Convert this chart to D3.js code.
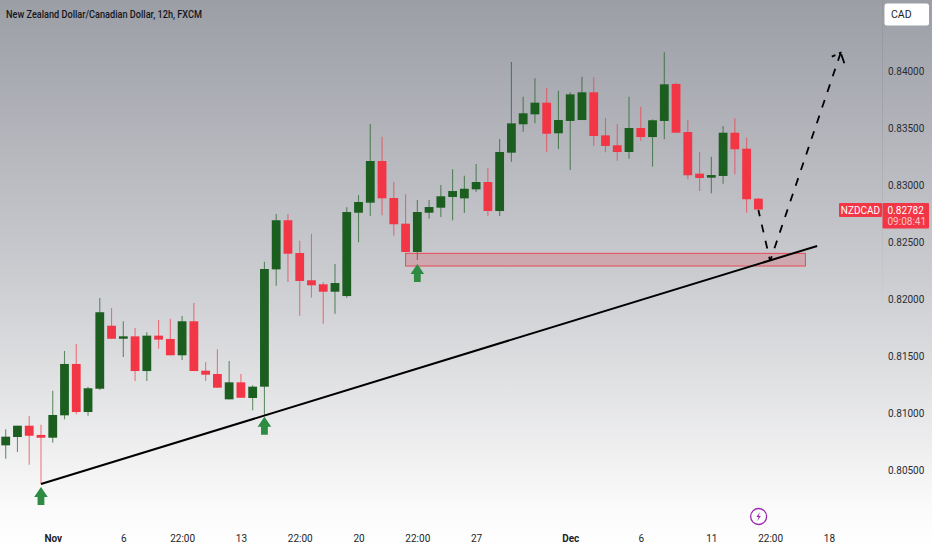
<!DOCTYPE html>
<html lang="en">
<head>
  <meta charset="UTF-8">
  <title>NZDCAD 12h</title>
  <script src="https://d3js.org/d3.v7.min.js"></script>
  <style>
    body { margin: 0; background: #fff; overflow: hidden; }
    text { font-family: Roboto, sans-serif; }
  </style>
</head>
<body>
  <script>
    const width = 932, height = 550;

    const opens = [0.80716,0.80789,0.80888,0.80807,0.80783,0.80979,0.81429,0.81008,0.81212,0.81764,
      0.81650,0.81671,0.81367,0.81677,0.81648,0.81505,0.81803,0.81370,0.81341,0.81119,
      0.81268,0.81131,0.81230,0.82258,0.82688,0.82401,0.82162,0.82127,0.82062,0.82024,
      0.82754,0.82842,0.83207,0.82883,0.82658,0.82410,0.82754,0.82798,0.82892,0.82880,
      0.82959,0.83023,0.82769,0.83280,0.83529,0.83616,0.83718,0.83450,0.83558,0.83566,
      0.83809,0.83432,0.83345,0.83286,0.83496,0.83417,0.83558,0.83882,0.83461,0.83096,
      0.83061,0.83076,0.83455,0.83315,0.82877];
    const highs = [0.80857,0.80888,0.80973,0.80897,0.81195,0.81543,0.81604,0.81230,0.82007,0.81919,
      0.81803,0.81744,0.81706,0.81814,0.81826,0.81849,0.81963,0.81446,0.81557,0.81455,
      0.81341,0.81242,0.82325,0.82743,0.82743,0.82509,0.82568,0.82144,0.82305,0.82802,
      0.82909,0.83531,0.83420,0.83026,0.82915,0.82865,0.82865,0.82997,0.83134,0.83078,
      0.83181,0.83146,0.83400,0.84074,0.83770,0.83932,0.83847,0.83823,0.83809,0.83946,
      0.83940,0.83584,0.83531,0.83770,0.83683,0.83572,0.84159,0.83893,0.83566,0.83286,
      0.83245,0.83514,0.83581,0.83411,0.82883];
    const lows = [0.80599,0.80658,0.80546,0.80377,0.80739,0.80944,0.80988,0.80976,0.81201,0.81648,
      0.81490,0.81280,0.81280,0.81563,0.81505,0.81464,0.81367,0.81280,0.81221,0.81119,
      0.81133,0.81023,0.80982,0.82115,0.82147,0.81852,0.82010,0.81782,0.81869,0.82010,
      0.82495,0.82725,0.82731,0.82553,0.82410,0.82340,0.82702,0.82717,0.82688,0.82752,
      0.82936,0.82725,0.82725,0.83201,0.83464,0.83537,0.83289,0.83312,0.83128,0.83566,
      0.83339,0.83283,0.83210,0.83227,0.83382,0.83157,0.83397,0.83455,0.83047,0.82944,
      0.82924,0.83008,0.83091,0.82754,0.82782];
    const closes = [0.80792,0.80888,0.80800,0.80783,0.80982,0.81429,0.81008,0.81216,0.81882,0.81650,
      0.81671,0.81367,0.81677,0.81642,0.81505,0.81803,0.81367,0.81335,0.81221,0.81268,
      0.81133,0.81230,0.82261,0.82688,0.82395,0.82156,0.82118,0.82062,0.82138,0.82760,
      0.82848,0.83207,0.82880,0.82653,0.82410,0.82760,0.82804,0.82898,0.82944,0.82964,
      0.83023,0.82769,0.83286,0.83537,0.83625,0.83718,0.83446,0.83566,0.83791,0.83809,
      0.83426,0.83339,0.83286,0.83496,0.83417,0.83564,0.83879,0.83455,0.83082,0.83058,
      0.83084,0.83455,0.83310,0.82872,0.82782];

    const xTickIdx = [4, 10, 15, 20, 25, 30, 35, 40, 48, 54, 60, 65, 70];
    const xTickLabels = ['Nov', '6', '22:00', '13', '22:00', '20', '22:00', '27', 'Dec', '6', '11', '22:00', '18'];
    const yTicks = [0.805, 0.81, 0.815, 0.82, 0.825, 0.83, 0.835, 0.84];

    // drawings on the chart, [candle index, price]
    const trendLine = [[3, 0.80377], [69, 0.82463]];
    const zoneIdx = [34, 68];
    const zonePrice = [0.82398, 0.82287];
    const dashDown = [[64, 0.82778], [65, 0.82331]];
    const dashUp = [[65, 0.82331], [71, 0.84156]];
    const dashHead = [[70.24, 0.84121], [71, 0.84156], [71.31, 0.84063]];
    const arrowIdx = [3, 22, 35];
    const arrowPrice = [0.80351, 0.80967, 0.82305];

    const lastPrice = '0.82782', countdown = '09:08:41';

    const svg = d3.select('body')
      .append('svg')
      .attr('width', width)
      .attr('height', height)
      .style('display', 'block');

    const defs = svg.append('defs');
    const grad = defs.append('linearGradient')
      .attr('id', 'bg').attr('x1', 0).attr('y1', 0).attr('x2', 0).attr('y2', 1);
    grad.append('stop').attr('offset', 0).attr('stop-color', '#9c9ea6');
    grad.append('stop').attr('offset', 0.5).attr('stop-color', '#cbccd0');
    grad.append('stop').attr('offset', 0.93).attr('stop-color', '#fbfbfb');
    grad.append('stop').attr('offset', 1).attr('stop-color', '#ffffff');
    svg.append('rect').attr('width', width).attr('height', height).attr('fill', 'url(#bg)');

    // price scale border only shows on the darker upper part
    const fade = defs.append('linearGradient')
      .attr('id', 'edge').attr('gradientUnits', 'userSpaceOnUse')
      .attr('x1', 0).attr('y1', 0).attr('x2', 0).attr('y2', 320);
    fade.append('stop').attr('offset', 0).attr('stop-color', '#8f9198').attr('stop-opacity', 0.6);
    fade.append('stop').attr('offset', 1).attr('stop-color', '#8f9198').attr('stop-opacity', 0);

    const x = d3.scaleLinear().domain([0, 71]).range([5.7, 840.7]);
    const y = d3.scaleLinear().domain([0.805, 0.84]).range([470, 70.5]);
    const bodyW = 8.8;
    const green = '#1b5e20', red = '#f23645', arrowGreen = '#2e8b42';

    svg.append('rect')
      .attr('x', 882).attr('y', 0).attr('width', 1).attr('height', 320)
      .attr('fill', 'url(#edge)');

    const xAxis = d3.axisBottom(x)
      .tickValues(xTickIdx)
      .tickFormat((d, i) => xTickLabels[i])
      .tickSize(0);
    const xg = svg.append('g').attr('transform', 'translate(0, 532)').call(xAxis);
    xg.select('.domain').remove();
    xg.selectAll('text')
      .attr('fill', '#1d1f26')
      .style('font-size', '10px')
      .style('font-weight', (d, i) => /[A-Z]/.test(xTickLabels[i]) ? 700 : 400);

    const yAxis = d3.axisRight(y)
      .tickValues(yTicks)
      .tickFormat(d3.format('.5f'))
      .tickSize(0)
      .tickPadding(5);
    const yg = svg.append('g').attr('transform', 'translate(883, 0.5)').call(yAxis);
    yg.select('.domain').remove();
    yg.selectAll('text')
      .attr('fill', '#2a2c33')
      .style('font-size', '10px');

    // candles
    const candles = svg.append('g').selectAll('g')
      .data(opens.map((o, i) => i))
      .join('g');
    candles.append('line')
      .attr('x1', i => x(i)).attr('x2', i => x(i))
      .attr('y1', i => y(highs[i])).attr('y2', i => y(lows[i]))
      .attr('stroke', i => closes[i] >= opens[i] ? green : red)
      .attr('stroke-opacity', 0.65)
      .attr('stroke-width', 1.1);
    candles.append('rect')
      .attr('x', i => x(i) - bodyW / 2)
      .attr('width', bodyW)
      .attr('y', i => y(Math.max(opens[i], closes[i])))
      .attr('height', i => Math.max(1.5, Math.abs(y(opens[i]) - y(closes[i]))))
      .attr('fill', i => closes[i] >= opens[i] ? green : red);

    // support zone
    svg.append('rect')
      .attr('x', x(zoneIdx[0]))
      .attr('width', x(zoneIdx[1]) - x(zoneIdx[0]))
      .attr('y', y(zonePrice[0]))
      .attr('height', y(zonePrice[1]) - y(zonePrice[0]))
      .attr('fill', '#e0343f')
      .attr('fill-opacity', 0.22)
      .attr('stroke', '#e8404c')
      .attr('stroke-opacity', 0.9);

    const line = d3.line().x(d => x(d[0])).y(d => y(d[1]));

    svg.append('path')
      .attr('d', line(trendLine))
      .attr('fill', 'none').attr('stroke', '#000').attr('stroke-width', 2);

    const dashed = (pts, dash, offset) => svg.append('path')
      .attr('d', line(pts))
      .attr('fill', 'none')
      .attr('stroke', '#000')
      .attr('stroke-width', 1.8)
      .attr('stroke-dasharray', dash)
      .attr('stroke-dashoffset', offset);
    dashed(dashDown, '8,8.5', 1.5);
    dashed(dashUp, '8,8.5', 3);
    dashed(dashHead, '4,4,2.5,1,10', 0);

    // green markers
    svg.append('g').selectAll('path')
      .data(arrowIdx)
      .join('path')
      .attr('transform', (d, i) => `translate(${x(d)}, ${y(arrowPrice[i])})`)
      .attr('d', 'M0,0L6.8,10H3.4V18H-3.4V10H-6.8Z')
      .attr('fill', arrowGreen);

    // last price labels
    svg.append('rect').attr('x', 839).attr('y', 203).attr('width', 43).attr('height', 14)
      .attr('rx', 1).attr('fill', red);
    svg.append('text').attr('x', 860.5).attr('y', 214).attr('text-anchor', 'middle')
      .attr('fill', '#fff').style('font-size', '10px').text('NZDCAD');
    svg.append('rect').attr('x', 882.5).attr('y', 203).attr('width', 46.5).attr('height', 25.5)
      .attr('rx', 1).attr('fill', red);
    svg.append('text').attr('x', 887.5).attr('y', 214)
      .attr('fill', '#fff').style('font-size', '10px').text(lastPrice);
    svg.append('text').attr('x', 887.5).attr('y', 225)
      .attr('fill', '#ffc4c9').style('font-size', '10px').text(countdown);

    // currency button
    svg.append('rect').attr('x', 884.5).attr('y', 3.5).attr('width', 44.5).attr('height', 22)
      .attr('rx', 2.5).attr('fill', '#fff');
    svg.append('text').attr('x', 891).attr('y', 18)
      .attr('fill', '#1d1f26').style('font-size', '10.5px').text('CAD');

    // title
    svg.append('text').attr('x', 6).attr('y', 18)
      .attr('fill', '#14161c')
      .style('font-size', '10.5px')
      .style('font-weight', 500)
      .attr('textLength', 196)
      .attr('lengthAdjust', 'spacingAndGlyphs')
      .text('New Zealand Dollar/Canadian Dollar, 12h, FXCM');

    // earnings style marker on the time axis
    const icon = svg.append('g').attr('transform', `translate(${x(65) - 11.5}, 516.5)`);
    icon.append('circle').attr('r', 8).attr('fill', 'none').attr('stroke', '#9c27b0').attr('stroke-width', 1.3);
    icon.append('path').attr('d', 'M1.3,-4.5L-2.2,0.6H0L-1.3,4.5L2.2,-0.6H0Z').attr('fill', '#9c27b0');
  </script>
</body>
</html>
